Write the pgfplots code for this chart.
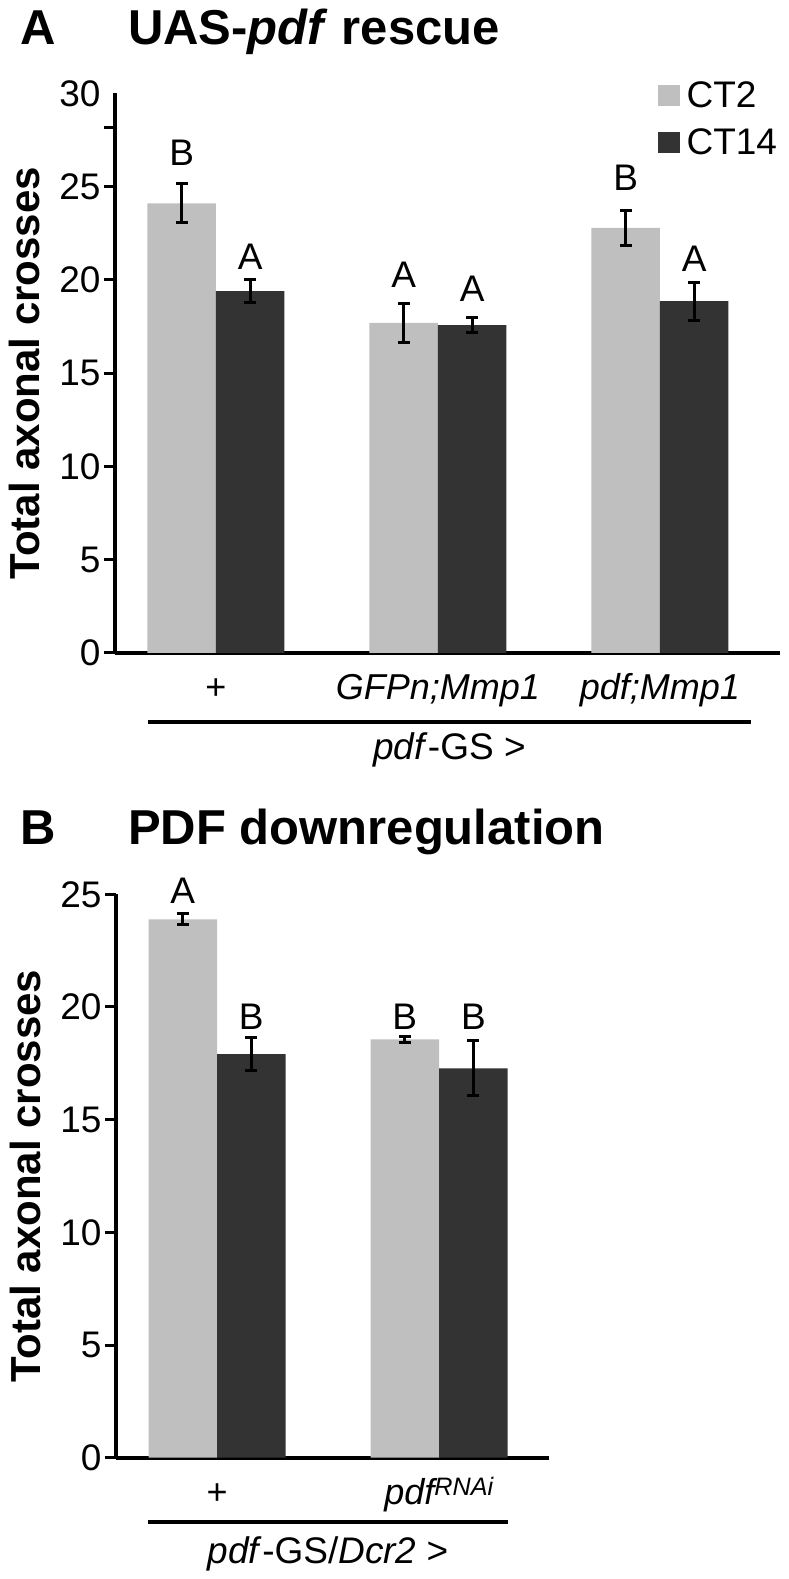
\documentclass[border=0pt]{standalone}
\usepackage{pgfplots}
\pgfplotsset{compat=1.18}
\usepackage{fontspec}
\setmainfont{Liberation Sans}
\definecolor{lightbar}{RGB}{191,191,191}
\definecolor{darkbar}{RGB}{51,51,51}
\newcommand{\fs}[1]{\fontsize{#1pt}{#1pt}\selectfont}

\pgfplotsset{
  panel/.style={
    scale only axis,
    axis x line=bottom, axis y line=left,
    axis line style={line width=4pt, -},
    x tick style={draw=none},
    y tick style={line width=3pt, black},
    major tick length=11pt, tick align=outside,
    ytick pos=left,
    /pgf/number format/assume math mode=true,
    yticklabel style={font=\fs{37}},
    xticklabel style={font=\fs{36}, anchor=base, yshift=-36pt},
    ylabel style={font=\bfseries\fs{42}, anchor=base},
    clip=false,
  },
  barL/.style={ybar, bar width=68.5pt, bar shift=0pt, fill=lightbar, draw=none, forget plot,
    error bars/.cd, y dir=both, y explicit,
    error bar style={line width=3pt, black},
    error mark options={rotate=90, line width=3pt, mark size=6pt, black}},
  barD/.style={ybar, bar width=68.5pt, bar shift=0pt, fill=darkbar, draw=none, forget plot,
    error bars/.cd, y dir=both, y explicit,
    error bar style={line width=3pt, black},
    error mark options={rotate=90, line width=3pt, mark size=6pt, black}},
  letters/.style={forget plot, only marks, mark=none, nodes near coords,
    point meta=explicit symbolic,
    every node near coord/.append style={anchor=base, font=\fs{37}, inner sep=0pt}},
}

\begin{document}
\begin{tikzpicture}
\path[use as bounding box] (0,0) rectangle (788pt,1579pt);

% ---------------- Panel A ----------------
\node[anchor=base west, inner sep=0pt, font=\bfseries\fs{49}] at (20pt,1534pt) {A};
\node[anchor=base west, inner sep=0pt, font=\bfseries\fs{49}] at (128pt,1534pt) {UAS-\textit{pdf} rescue};

\begin{axis}[panel,
  at={(115pt,926pt)}, anchor=south west,
  width=665pt, height=559.7pt,
  xmin=-0.455, xmax=2.541, ymin=0, ymax=30,
  ytick={0,5,10,15,20,25,28.15}, yticklabels={0,5,10,15,20,25,{}},
  extra y ticks={30}, extra y tick labels={30},
  extra y tick style={major tick style={draw=none}},
  xtick={0,1,2}, xticklabels={+, \textit{GFPn;Mmp1}, \textit{pdf;Mmp1}},
  ylabel={Total axonal crosses},
  ylabel style={at={(axis description cs:-0.1128,0.5)}},
  legend style={at={(axis description cs:0.812,1.025)}, anchor=north west, draw=none, fill=none,
    font=\fs{37}, legend cell align=left, row sep=20pt,
    nodes={inner sep=0pt}, /tikz/every odd column/.append style={column sep=7pt}},
]
\addlegendimage{legend image code/.code={\fill[lightbar] (0pt,-10pt) rectangle (21pt,10pt);}}
\addlegendentry{CT2}
\addlegendimage{legend image code/.code={\fill[darkbar] (0pt,-10pt) rectangle (21pt,10pt);}}
\addlegendentry{CT14}

\addplot[barL] coordinates {(-0.1543,24.10) +- (0,1.05) (0.8457,17.70) +- (0,1.05) (1.8457,22.78) +- (0,0.95)};
\addplot[barD] coordinates {(0.1543,19.40) +- (0,0.60) (1.1543,17.58) +- (0,0.42) (2.1543,18.86) +- (0,1.02)};
\addplot[letters] coordinates {(-0.1543,26.11) [B] (0.1543,20.56) [A] (0.8457,19.61) [A]
  (1.1543,18.83) [A] (1.8457,24.81) [B] (2.1543,20.43) [A]};
\end{axis}
\draw[line width=4pt] (148pt,857pt) -- (751pt,857pt);
\node[anchor=base, inner sep=0pt, font=\fs{37}] at (449.5pt,819pt) {\textit{pdf}-GS >};

% ---------------- Panel B ----------------
\node[anchor=base west, inner sep=0pt, font=\bfseries\fs{49}] at (20pt,734pt) {B};
\node[anchor=base west, inner sep=0pt, font=\bfseries\fs{49}] at (128pt,734pt) {PDF downregulation};

\begin{axis}[panel,
  at={(116pt,121.3pt)}, anchor=south west,
  width=433pt, height=563.4pt,
  xmin=-0.455, xmax=1.495, ymin=0, ymax=25,
  ytick={0,5,10,15,20,25},
  xtick={0,1}, xticklabels={+, \textit{pdf\textsuperscript{RNAi}}},
  ylabel={Total axonal crosses},
  ylabel style={at={(axis description cs:-0.1755,0.5)}},
]
\addplot[barL] coordinates {(-0.1543,23.89) +- (0,0.25) (0.8457,18.56) +- (0,0.14)};
\addplot[barD] coordinates {(0.1543,17.91) +- (0,0.72) (1.1543,17.28) +- (0,1.22)};
\addplot[letters] coordinates {(-0.1543,24.60) [A] (0.1543,18.98) [B] (0.8457,19.00) [B] (1.1543,19.00) [B]};
\end{axis}
\draw[line width=4pt] (148pt,57pt) -- (508pt,57pt);
\node[anchor=base, inner sep=0pt, font=\fs{37}] at (328pt,16pt) {\textit{pdf}-GS/\textit{Dcr2} >};

\end{tikzpicture}
\end{document}
